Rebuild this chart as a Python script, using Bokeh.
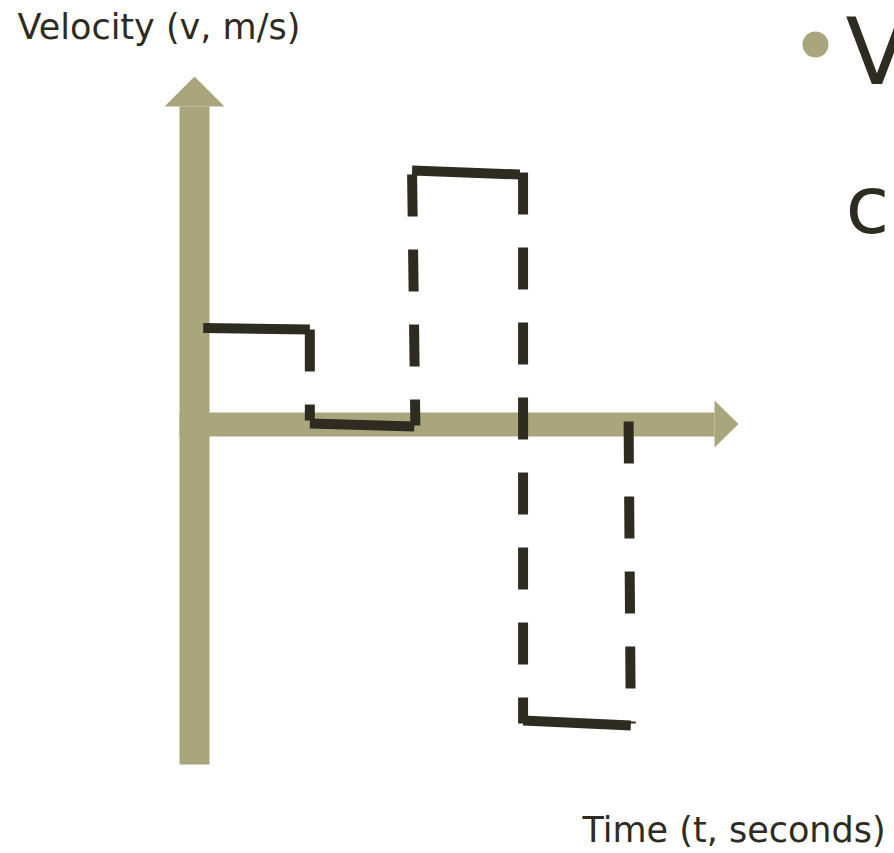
from bokeh.plotting import figure
from bokeh.models import Range1d
from bokeh.core.properties import value
from bokeh.embed import file_html
from bokeh.resources import INLINE

# ---------------- data (time in s, velocity in m/s) ----------------
# constant-velocity strokes (solid, hand drawn so slightly sloped)
seg_t_start = [0.08, 1.06, 2.00, 3.02]
seg_t_end = [1.06, 2.02, 2.99, 4.01]
seg_v_start = [3.86, 0.04, 10.16, -11.84]
seg_v_end = [3.80, -0.08, 10.00, -12.04]

# velocity changes (dashed vertical strokes), drawn from top to bottom
jump_t_top = [1.06, 2.00, 3.02, 3.99]
jump_t_bot = [1.06, 2.03, 3.02, 4.01]
jump_v_top = [3.80, 10.00, 10.08, 0.12]
jump_v_bot = [0.16, -0.04, -11.96, -11.96]

x_label = "Time (t, seconds)"
y_label = "Velocity (v, m/s)"
slide_line1 = "V"
slide_line2 = "cu"

# ---------------- layout / style ----------------
W, H = 894, 853
PX_PER_S = 108.8
PX_PER_V = 25.0
OX, OY = 194.0, 424.0          # picture position of the origin
AXIS_COLOR = "#a9a67d"
INK = "#2e2b21"
FONT = "DejaVu Sans"


def tx(px):
    return (px - OX) / PX_PER_S


def vy(py):
    return (OY - py) / PX_PER_V


p = figure(width=W, height=H,
           x_range=Range1d(tx(0), tx(W)), y_range=Range1d(vy(H), vy(0)),
           output_backend="svg", toolbar_location=None, min_border=0,
           x_axis_type=None, y_axis_type=None)
p.outline_line_color = None
p.background_fill_color = "white"
p.border_fill_color = "white"

# axes drawn as thick arrows
p.line([0, 0], [vy(764), vy(106)], line_width=30, line_color=AXIS_COLOR, line_cap="butt")
p.line([tx(179), tx(714)], [0, 0], line_width=24, line_color=AXIS_COLOR, line_cap="butt")
p.patch([tx(164), 0, tx(224)], [vy(106), vy(76), vy(106)], color=AXIS_COLOR, line_width=0)
p.patch([tx(714), tx(738), tx(714)], [vy(400), vy(423.5), vy(447)], color=AXIS_COLOR, line_width=0)

# step graph
p.segment(x0=seg_t_start, y0=seg_v_start, x1=seg_t_end, y1=seg_v_end,
          line_width=10, line_color=INK, line_cap="butt")
p.multi_line(xs=[[a, b] for a, b in zip(jump_t_top, jump_t_bot)],
             ys=[[a, b] for a, b in zip(jump_v_top, jump_v_bot)],
             line_width=10, line_color=INK, line_dash="42 33", line_cap="butt")

# labels
p.text(x=[tx(17)], y=[vy(26)], text=[y_label], text_font=value(FONT),
       text_font_size="35px", text_color=INK, text_baseline="alphabetic", text_align="left")
p.text(x=[tx(582)], y=[vy(829)], text=[x_label], text_font=value(FONT),
       text_font_size="35px", text_color=INK, text_baseline="alphabetic", text_align="left")

# slide bullet text on the right
p.scatter(x=[tx(815)], y=[vy(44)], size=26, color=AXIS_COLOR, line_width=0)
p.text(x=[tx(845)], y=[vy(52)], text=[slide_line1], text_font=value(FONT),
       text_font_size="92px", text_color=INK, text_baseline="alphabetic", text_align="left")
p.text(x=[tx(845)], y=[vy(205)], text=[slide_line2], text_font=value(FONT),
       text_font_size="80px", text_color=INK, text_baseline="alphabetic", text_align="left")

open("out.html", "w").write(file_html(p, INLINE))
